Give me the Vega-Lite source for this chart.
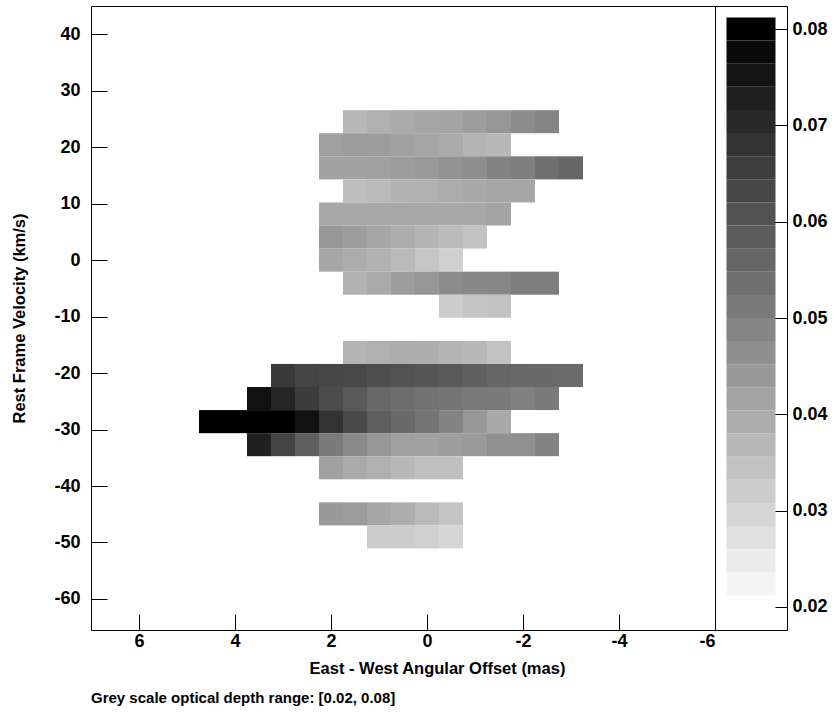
{
  "$schema": "https://vega.github.io/schema/vega-lite/v6.json",
  "padding": {"left": 10, "top": 5, "right": 5, "bottom": 5},
  "background": "white",
  "bounds": "flush",
  "config": {
    "view": {"stroke": "black", "strokeWidth": 1},
    "font": "Liberation Sans",
    "axis": {
      "labelFont": "Liberation Sans", "labelFontWeight": "bold", "labelFontSize": 18, "labelColor": "black",
      "titleFont": "Liberation Sans", "titleFontWeight": "bold", "titleFontSize": 16.5, "titleColor": "black",
      "grid": false, "domain": false, "tickColor": "black", "tickWidth": 1
    }
  },
  "datasets": {
    "cells": [
      {"o": 1.5, "v": 24.51, "t": 0.0367}, {"o": 1.0, "v": 24.51, "t": 0.0386}, {"o": 0.5, "v": 24.51, "t": 0.0398}, {"o": 0.0, "v": 24.51, "t": 0.0409}, {"o": -0.5, "v": 24.51, "t": 0.0414}, {"o": -1.0, "v": 24.51, "t": 0.0428}, {"o": -1.5, "v": 24.51, "t": 0.0447}, {"o": -2.0, "v": 24.51, "t": 0.0471}, {"o": -2.5, "v": 24.51, "t": 0.0487},
      {"o": 2.0, "v": 20.43, "t": 0.0424}, {"o": 1.5, "v": 20.43, "t": 0.0433}, {"o": 1.0, "v": 20.43, "t": 0.0433}, {"o": 0.5, "v": 20.43, "t": 0.0421}, {"o": 0.0, "v": 20.43, "t": 0.0409}, {"o": -0.5, "v": 20.43, "t": 0.0400}, {"o": -1.0, "v": 20.43, "t": 0.0376}, {"o": -1.5, "v": 20.43, "t": 0.0367},
      {"o": 2.0, "v": 16.34, "t": 0.0419}, {"o": 1.5, "v": 16.34, "t": 0.0419}, {"o": 1.0, "v": 16.34, "t": 0.0424}, {"o": 0.5, "v": 16.34, "t": 0.0431}, {"o": 0.0, "v": 16.34, "t": 0.0438}, {"o": -0.5, "v": 16.34, "t": 0.0454}, {"o": -1.0, "v": 16.34, "t": 0.0466}, {"o": -1.5, "v": 16.34, "t": 0.0492}, {"o": -2.0, "v": 16.34, "t": 0.0501}, {"o": -2.5, "v": 16.34, "t": 0.0539}, {"o": -3.0, "v": 16.34, "t": 0.0560},
      {"o": 1.5, "v": 12.26, "t": 0.0353}, {"o": 1.0, "v": 12.26, "t": 0.0362}, {"o": 0.5, "v": 12.26, "t": 0.0381}, {"o": 0.0, "v": 12.26, "t": 0.0386}, {"o": -0.5, "v": 12.26, "t": 0.0395}, {"o": -1.0, "v": 12.26, "t": 0.0402}, {"o": -1.5, "v": 12.26, "t": 0.0409}, {"o": -2.0, "v": 12.26, "t": 0.0409},
      {"o": 2.0, "v": 8.17, "t": 0.0405}, {"o": 1.5, "v": 8.17, "t": 0.0405}, {"o": 1.0, "v": 8.17, "t": 0.0405}, {"o": 0.5, "v": 8.17, "t": 0.0405}, {"o": 0.0, "v": 8.17, "t": 0.0402}, {"o": -0.5, "v": 8.17, "t": 0.0402}, {"o": -1.0, "v": 8.17, "t": 0.0405}, {"o": -1.5, "v": 8.17, "t": 0.0414},
      {"o": 2.0, "v": 4.085, "t": 0.0442}, {"o": 1.5, "v": 4.085, "t": 0.0428}, {"o": 1.0, "v": 4.085, "t": 0.0409}, {"o": 0.5, "v": 4.085, "t": 0.0393}, {"o": 0.0, "v": 4.085, "t": 0.0376}, {"o": -0.5, "v": 4.085, "t": 0.0358}, {"o": -1.0, "v": 4.085, "t": 0.0344},
      {"o": 2.0, "v": 0, "t": 0.0409}, {"o": 1.5, "v": 0, "t": 0.0395}, {"o": 1.0, "v": 0, "t": 0.0381}, {"o": 0.5, "v": 0, "t": 0.0362}, {"o": 0.0, "v": 0, "t": 0.0334}, {"o": -0.5, "v": 0, "t": 0.0311},
      {"o": 1.5, "v": -4.085, "t": 0.0381}, {"o": 1.0, "v": -4.085, "t": 0.0400}, {"o": 0.5, "v": -4.085, "t": 0.0431}, {"o": 0.0, "v": -4.085, "t": 0.0447}, {"o": -0.5, "v": -4.085, "t": 0.0471}, {"o": -1.0, "v": -4.085, "t": 0.0480}, {"o": -1.5, "v": -4.085, "t": 0.0485}, {"o": -2.0, "v": -4.085, "t": 0.0501}, {"o": -2.5, "v": -4.085, "t": 0.0501},
      {"o": -0.5, "v": -8.17, "t": 0.0320}, {"o": -1.0, "v": -8.17, "t": 0.0339}, {"o": -1.5, "v": -8.17, "t": 0.0344},
      {"o": 1.5, "v": -16.34, "t": 0.0376}, {"o": 1.0, "v": -16.34, "t": 0.0386}, {"o": 0.5, "v": -16.34, "t": 0.0395}, {"o": 0.0, "v": -16.34, "t": 0.0391}, {"o": -0.5, "v": -16.34, "t": 0.0376}, {"o": -1.0, "v": -16.34, "t": 0.0367}, {"o": -1.5, "v": -16.34, "t": 0.0344},
      {"o": 3.0, "v": -20.43, "t": 0.0664}, {"o": 2.5, "v": -20.43, "t": 0.0640}, {"o": 2.0, "v": -20.43, "t": 0.0633}, {"o": 1.5, "v": -20.43, "t": 0.0631}, {"o": 1.0, "v": -20.43, "t": 0.0616}, {"o": 0.5, "v": -20.43, "t": 0.0607}, {"o": 0.0, "v": -20.43, "t": 0.0600}, {"o": -0.5, "v": -20.43, "t": 0.0588}, {"o": -1.0, "v": -20.43, "t": 0.0574}, {"o": -1.5, "v": -20.43, "t": 0.0560}, {"o": -2.0, "v": -20.43, "t": 0.0553}, {"o": -2.5, "v": -20.43, "t": 0.0551}, {"o": -3.0, "v": -20.43, "t": 0.0548},
      {"o": 3.5, "v": -24.51, "t": 0.0760}, {"o": 3.0, "v": -24.51, "t": 0.0711}, {"o": 2.5, "v": -24.51, "t": 0.0659}, {"o": 2.0, "v": -24.51, "t": 0.0621}, {"o": 1.5, "v": -24.51, "t": 0.0588}, {"o": 1.0, "v": -24.51, "t": 0.0555}, {"o": 0.5, "v": -24.51, "t": 0.0541}, {"o": 0.0, "v": -24.51, "t": 0.0532}, {"o": -0.5, "v": -24.51, "t": 0.0525}, {"o": -1.0, "v": -24.51, "t": 0.0513}, {"o": -1.5, "v": -24.51, "t": 0.0513}, {"o": -2.0, "v": -24.51, "t": 0.0499}, {"o": -2.5, "v": -24.51, "t": 0.0513},
      {"o": 4.5, "v": -28.6, "t": 0.0800}, {"o": 4.0, "v": -28.6, "t": 0.0800}, {"o": 3.5, "v": -28.6, "t": 0.0800}, {"o": 3.0, "v": -28.6, "t": 0.0800}, {"o": 2.5, "v": -28.6, "t": 0.0760}, {"o": 2.0, "v": -28.6, "t": 0.0680}, {"o": 1.5, "v": -28.6, "t": 0.0626}, {"o": 1.0, "v": -28.6, "t": 0.0579}, {"o": 0.5, "v": -28.6, "t": 0.0553}, {"o": 0.0, "v": -28.6, "t": 0.0527}, {"o": -0.5, "v": -28.6, "t": 0.0489}, {"o": -1.0, "v": -28.6, "t": 0.0442}, {"o": -1.5, "v": -28.6, "t": 0.0402},
      {"o": 3.5, "v": -32.68, "t": 0.0725}, {"o": 3.0, "v": -32.68, "t": 0.0640}, {"o": 2.5, "v": -32.68, "t": 0.0574}, {"o": 2.0, "v": -32.68, "t": 0.0513}, {"o": 1.5, "v": -32.68, "t": 0.0475}, {"o": 1.0, "v": -32.68, "t": 0.0447}, {"o": 0.5, "v": -32.68, "t": 0.0424}, {"o": 0.0, "v": -32.68, "t": 0.0419}, {"o": -0.5, "v": -32.68, "t": 0.0428}, {"o": -1.0, "v": -32.68, "t": 0.0438}, {"o": -1.5, "v": -32.68, "t": 0.0461}, {"o": -2.0, "v": -32.68, "t": 0.0461}, {"o": -2.5, "v": -32.68, "t": 0.0489},
      {"o": 2.0, "v": -36.77, "t": 0.0424}, {"o": 1.5, "v": -36.77, "t": 0.0400}, {"o": 1.0, "v": -36.77, "t": 0.0386}, {"o": 0.5, "v": -36.77, "t": 0.0367}, {"o": 0.0, "v": -36.77, "t": 0.0348}, {"o": -0.5, "v": -36.77, "t": 0.0348},
      {"o": 2.0, "v": -44.94, "t": 0.0440}, {"o": 1.5, "v": -44.94, "t": 0.0433}, {"o": 1.0, "v": -44.94, "t": 0.0409}, {"o": 0.5, "v": -44.94, "t": 0.0393}, {"o": 0.0, "v": -44.94, "t": 0.0362}, {"o": -0.5, "v": -44.94, "t": 0.0339},
      {"o": 1.0, "v": -49.02, "t": 0.0320}, {"o": 0.5, "v": -49.02, "t": 0.0320}, {"o": 0.0, "v": -49.02, "t": 0.0311}, {"o": -0.5, "v": -49.02, "t": 0.0296}
    ],
    "bar": [
      {"t": 0.02}, {"t": 0.0224}, {"t": 0.0248}, {"t": 0.0272}, {"t": 0.0296}, {"t": 0.032}, {"t": 0.0344}, {"t": 0.0368}, {"t": 0.0392}, {"t": 0.0416}, {"t": 0.044}, {"t": 0.0464}, {"t": 0.0488},
      {"t": 0.0512}, {"t": 0.0536}, {"t": 0.056}, {"t": 0.0584}, {"t": 0.0608}, {"t": 0.0632}, {"t": 0.0656}, {"t": 0.068}, {"t": 0.0704}, {"t": 0.0728}, {"t": 0.0752}, {"t": 0.0776}, {"t": 0.08}
    ]
  },
  "spacing": 0,
  "resolve": {"scale": {"x": "independent", "y": "independent", "color": "independent"}},
  "hconcat": [
    {
      "width": 624,
      "height": 624,
      "data": {"name": "cells"},
      "title": {"text": "Grey scale optical depth range: [0.02, 0.08]", "orient": "bottom", "anchor": "start", "frame": "group", "font": "Liberation Sans", "fontSize": 15, "fontWeight": "bold", "color": "black", "offset": 14},
      "mark": {"type": "rect", "width": 24, "height": 23.07},
      "encoding": {
        "x": {"field": "o", "type": "quantitative", "scale": {"domain": [7, -6], "nice": false, "zero": false},
              "axis": {"values": [6, 4, 2, 0, -2, -4, -6], "labelExpr": "toString(datum.value)", "title": "East - West Angular Offset (mas)", "tickSize": -16, "labelPadding": 18, "titlePadding": 10, "titleX": 346}},
        "y": {"field": "v", "type": "quantitative", "scale": {"domain": [-65.5, 45], "nice": false, "zero": false},
              "axis": {"values": [-60, -50, -40, -30, -20, -10, 0, 10, 20, 30, 40], "labelExpr": "toString(datum.value)", "title": "Rest Frame Velocity (km/s)", "tickSize": -16, "labelPadding": 27, "titleX": -72, "titleBaseline": "middle"}},
        "color": {"field": "t", "type": "quantitative", "scale": {"domain": [0.02, 0.08], "range": ["#ffffff", "#000000"], "interpolate": "rgb"}, "legend": null}
      }
    },
    {
      "width": 72,
      "height": 624,
      "data": {"name": "bar"},
      "mark": {"type": "rect", "width": 49, "height": 23.12},
      "encoding": {
        "x": {"datum": 0.5, "type": "quantitative", "scale": {"domain": [0, 1]}, "axis": null},
        "y": {"field": "t", "type": "quantitative", "scale": {"domain": [0.01761, 0.08239], "nice": false, "zero": false},
              "axis": {"orient": "right", "values": [0.02, 0.03, 0.04, 0.05, 0.06, 0.07, 0.08], "format": ".2f", "title": null, "tickSize": -36, "labelPadding": 41}},
        "color": {"field": "t", "type": "quantitative", "scale": {"domain": [0.02, 0.08], "range": ["#ffffff", "#000000"], "interpolate": "rgb"}, "legend": null}
      }
    }
  ]
}
